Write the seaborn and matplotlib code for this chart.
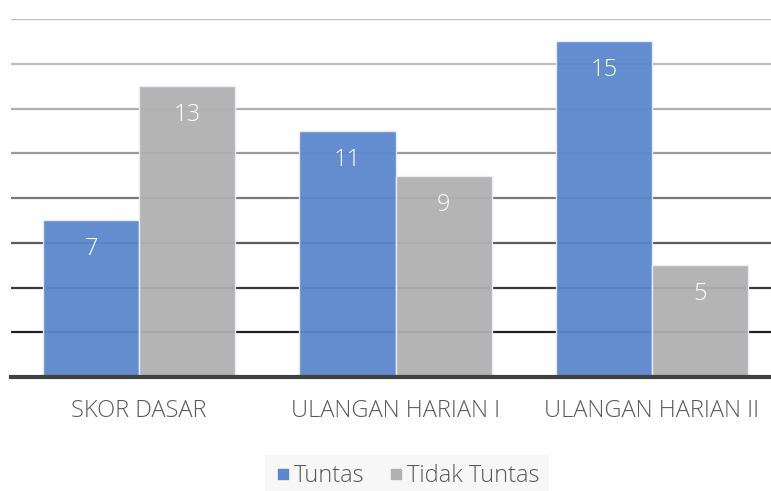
import matplotlib
matplotlib.use("Agg")
import matplotlib.pyplot as plt
import seaborn as sns
import pandas as pd
from matplotlib.lines import Line2D

categories = ["SKOR DASAR", "ULANGAN HARIAN I", "ULANGAN HARIAN II"]
series_names = ["Tuntas", "Tidak Tuntas"]
tuntas = [7, 11, 15]
tidak_tuntas = [13, 9, 5]
colors = ["#5b87cc", "#b0b0b0"]

sns.set_style("white")
plt.rcParams["font.family"] = ["Open Sans", "DejaVu Sans"]

df = pd.DataFrame({
    "Kategori": categories * 2,
    "Seri": [series_names[0]] * 3 + [series_names[1]] * 3,
    "Nilai": tuntas + tidak_tuntas,
})

FS = 17

fig = plt.figure(figsize=(7.71, 4.91), dpi=100)
ax = fig.add_axes([11 / 771, (491 - 377) / 491, 769 / 771, (377 - 19) / 491])

grid_colors = ["#222222", "#3a3a3a", "#5a5a5a", "#7a7a7a", "#9a9a9a", "#b0b0b0", "#bcbcbc", "#bfbfbf"]
for i, c in enumerate(grid_colors):
    ax.axhline((i + 1) * 2, color=c, lw=1.6, zorder=0)

sns.barplot(data=df, x="Kategori", y="Nilai", hue="Seri", palette=colors,
            saturation=1, width=0.75, gap=0, ax=ax, alpha=0.95,
            edgecolor="#e8eef8", linewidth=1.0, legend=False, zorder=2,
            err_kws={"linewidth": 0})

for cont in ax.containers:
    for bar in cont:
        h = bar.get_height()
        ax.annotate(f"{h:g}", (bar.get_x() + bar.get_width() / 2, h),
                    xytext=(0, -29 * 72 / 100), textcoords="offset points",
                    ha="center", va="center", color="white", fontsize=FS,
                    fontweight="light", zorder=5)

ax.set_xlim(-0.5, 2.5)
ax.set_ylim(0, 16)
ax.set_yticks([])
ax.set_xlabel("")
ax.set_ylabel("")
for s in ["top", "right", "left"]:
    ax.spines[s].set_visible(False)
ax.spines["bottom"].set_color("#404040")
ax.spines["bottom"].set_linewidth(3)
ax.spines["bottom"].set_zorder(6)
ax.tick_params(axis="x", length=0, pad=16, labelsize=FS, labelcolor="#595959")
for t in ax.get_xticklabels():
    t.set_fontweight("light")

handles = [Line2D([0], [0], marker="s", linestyle="none", markersize=7,
                  markerfacecolor=c, markeredgecolor=c) for c in colors]
leg = fig.legend(handles, series_names, loc="center", ncol=2,
                 bbox_to_anchor=(407 / 771, (491 - 476) / 491),
                 frameon=True, facecolor="#f5f5f5", edgecolor="none",
                 fancybox=False, fontsize=FS, handletextpad=0.1,
                 columnspacing=1.0, handlelength=0.7, borderpad=0.4)
for t in leg.get_texts():
    t.set_color("#595959")
    t.set_fontweight("light")

fig.savefig("out.png", dpi=100)
